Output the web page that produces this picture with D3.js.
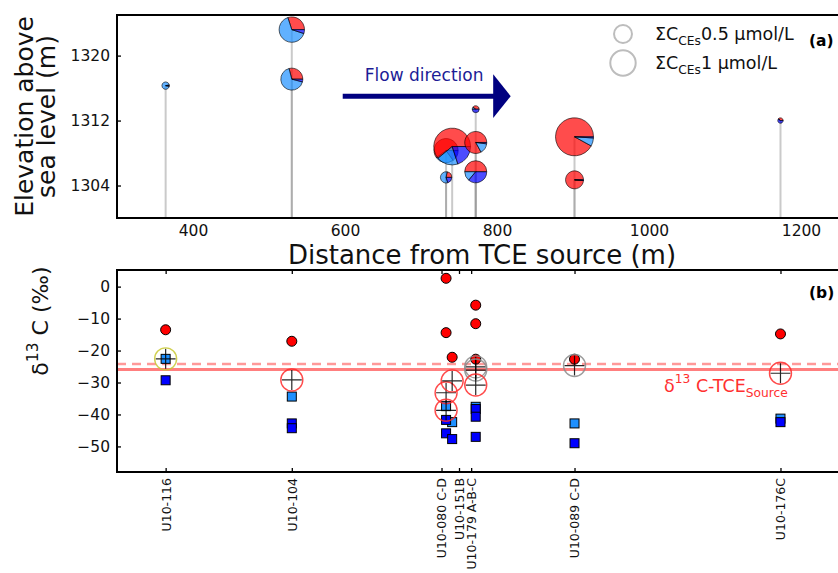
<!DOCTYPE html>
<html>
<head>
<meta charset="utf-8">
<script src="https://cdn.jsdelivr.net/npm/d3@7"></script>
<style>
  body { margin: 0; background: #fff; }
  svg { display: block; font-family: "DejaVu Sans", sans-serif; }
</style>
</head>
<body>
<svg id="chart" width="838" height="573"></svg>
<script>
// ---- monitoring wells ----
const wellNames = ["U10-116", "U10-104", "U10-080 C-D", "U10-151B", "U10-179 A-B-C", "U10-089 C-D", "U10-176C"];
const wellDistance = [364, 530, 733, 741, 772, 902, 1173];      // m from TCE source
const wellTickDistance = [364, 530, 727, 750, 766, 902, 1173];  // label positions (spread apart)

// ---- panel (a): chlorinated ethene composition per sampling depth ----
const pieWell = [0, 1, 1, 2, 2, 3, 4, 4, 4, 5, 5, 6];
const pieElevation = [1316.3, 1323.2, 1317.1, 1308.3, 1305.0, 1308.8, 1313.4, 1309.3, 1305.7, 1310.0, 1304.7, 1312.0];
const pieTotal = [0.085, 1.0, 0.75, 0.9, 0.2, 2.1, 0.075, 0.75, 0.75, 2.24, 0.5, 0.045]; // ΣCEs, µmol/L
const pieTCE = [0.03, 0.30, 0.29, 0.60, 0.22, 0.61, 0.40, 0.83, 0.50, 0.92, 0.99, 0.40];
const pieDCE = [0.94, 0.65, 0.67, 0.25, 0.58, 0.19, 0.10, 0.15, 0.14, 0.07, 0.00, 0.00];
const pieVC  = [0.03, 0.05, 0.04, 0.15, 0.20, 0.20, 0.50, 0.02, 0.36, 0.01, 0.01, 0.60];
const legendConc = [0.5, 1];

// ---- panel (b): carbon isotope ratios ----
const tceWell  = [0, 1, 2, 2, 3, 4, 4, 4, 5, 6];
const tceDelta = [-13.5, -17.1, 2.6, -14.4, -22.1, -5.8, -11.6, -22.7, -22.7, -14.8];
const dceWell  = [0, 1, 2, 3, 4, 5, 6];
const dceDelta = [-22.6, -34.4, -37.4, -42.4, -37.6, -42.8, -41.3];
const vcWell   = [0, 1, 1, 2, 2, 3, 4, 4, 4, 5, 6];
const vcDelta  = [-29.3, -42.8, -44.3, -41.7, -45.9, -47.7, -38.3, -40.7, -47.0, -49.0, -42.4];
const sumWell  = [0, 1, 2, 2, 3, 4, 4, 4, 5, 6];
const sumDelta = [-22.6, -29.2, -33.2, -38.7, -29.5, -25.1, -26.1, -30.8, -24.7, -27.1];
const sumClass = ["y", "r", "r", "r", "r", "g", "g", "r", "g", "r"];
const sourceDelta = -25.9;
const sourceDeltaAlt = -24.2;

// ---- ticks ----
const distTicks = [400, 600, 800, 1000, 1200];
const elevTicks = [1304, 1312, 1320];
const deltaTicks = [0, -10, -20, -30, -40, -50];

// ---- layout ----
const svg = d3.select("#chart");
const L = 117, R = 839;
const A = { top: 15, bottom: 218 };
const B = { top: 270, bottom: 472 };
const fmt = d3.format("d");

const x = d3.scaleLinear().domain([300, 1250]).range([L, R]);
const yA = d3.scaleLinear().domain([1300, 1325]).range([A.bottom, A.top]);
const yB = d3.scaleLinear().domain([-58, 5.2]).range([B.bottom, B.top]);
const rConc = d3.scaleSqrt().domain([0, 1]).range([0, 12.7]);

const compColors = ["#ff0000", "#1e90ff", "#0000ff"];
const ringColor = d3.scaleOrdinal().domain(["r", "g", "y"]).range(["#ff2a2a", "#8c8c8c", "#c8c832"]);

// ================= panel (a) =================
const gA = svg.append("g");
svg.append("clipPath").attr("id", "clipA")
  .append("rect").attr("x", L).attr("y", A.top).attr("width", R - L).attr("height", A.bottom - A.top);
const plotA = gA.append("g").attr("clip-path", "url(#clipA)");

// stems from each sample down to the axis
plotA.selectAll("line.stem").data(pieElevation).join("line")
  .attr("class", "stem")
  .attr("x1", (d, i) => x(wellDistance[pieWell[i]]))
  .attr("x2", (d, i) => x(wellDistance[pieWell[i]]))
  .attr("y1", d => yA(d))
  .attr("y2", A.bottom)
  .attr("stroke", "#8a8a8a").attr("stroke-opacity", 0.45).attr("stroke-width", 2);

// pies: TCE, cDCE, VC counter-clockwise from 3 o'clock
const pie = d3.pie().sort(null).startAngle(Math.PI / 2).endAngle(Math.PI / 2 - 2 * Math.PI);
const arc = d3.arc().innerRadius(0);
pieElevation.forEach((elev, i) => {
  const r = rConc(pieTotal[i]);
  const g = plotA.append("g")
    .attr("transform", `translate(${x(wellDistance[pieWell[i]])},${yA(elev)})`);
  const fr = [pieTCE[i], pieDCE[i], pieVC[i]];
  g.selectAll("path").data(pie(fr)).join("path")
    .attr("d", d => arc.outerRadius(r)(d))
    .attr("fill", (d, k) => compColors[k]).attr("fill-opacity", 0.7)
    .attr("stroke", "#000").attr("stroke-opacity", 0.6).attr("stroke-width", 1);
});

// flow direction arrow
const arrowY = 1315;
plotA.append("line")
  .attr("x1", x(597)).attr("x2", x(797))
  .attr("y1", yA(arrowY)).attr("y2", yA(arrowY))
  .attr("stroke", "#000080").attr("stroke-width", 5);
plotA.append("path")
  .attr("d", `M${x(795)},${yA(1317.7)}L${x(818)},${yA(arrowY)}L${x(795)},${yA(1312.3)}Z`)
  .attr("fill", "#000080");
gA.append("text").attr("x", x(626)).attr("y", 81)
  .attr("font-size", 17).attr("fill", "#1c1c96").text("Flow direction");

// legend for circle size
const legY = [34, 63];
legendConc.forEach((c, i) => {
  gA.append("circle").attr("cx", 623).attr("cy", legY[i]).attr("r", rConc(c))
    .attr("fill", "none").attr("stroke", "#bdbdbd").attr("stroke-width", 2);
  const t = gA.append("text").attr("x", 655).attr("y", legY[i] + 6).attr("font-size", 17.5).attr("fill", "#111");
  t.append("tspan").text("ΣC");
  t.append("tspan").attr("font-size", 12.25).attr("dy", 5).text("CEs");
  t.append("tspan").attr("dy", -5).text(c + " µmol/L");
});
gA.append("text").attr("x", 809).attr("y", 46).attr("font-size", 15.5).attr("font-weight", "bold").text("(a)");

// axes (a)
const axA = gA.append("g").attr("transform", `translate(${L},0)`)
  .call(d3.axisLeft(yA).tickValues(elevTicks).tickFormat(fmt).tickSizeInner(-4).tickSizeOuter(0).tickPadding(7));
axA.select(".domain").remove();
axA.selectAll("text").attr("font-size", 15.5).attr("font-family", "DejaVu Sans").attr("fill", "#111");
axA.selectAll("line").attr("stroke-width", 1.3);

const axAx = gA.append("g").attr("transform", `translate(0,${A.bottom})`)
  .call(d3.axisBottom(x).tickValues(distTicks).tickFormat(fmt).tickSize(0).tickPadding(7));
axAx.select(".domain").remove();
axAx.selectAll("text").attr("font-size", 15.5).attr("font-family", "DejaVu Sans").attr("fill", "#111");

gA.append("rect").attr("x", L).attr("y", A.top).attr("width", R - L).attr("height", A.bottom - A.top)
  .attr("fill", "none").attr("stroke", "#000").attr("stroke-width", 2);

gA.append("text").attr("x", 482).attr("y", 264).attr("text-anchor", "middle")
  .attr("font-size", 26).attr("fill", "#111").text("Distance from TCE source (m)");
[["Elevation above", 33], ["sea level (m)", 55]].forEach(([s, bx]) => {
  gA.append("text").attr("transform", `translate(${bx},${(A.top + A.bottom) / 2}) rotate(-90)`)
    .attr("text-anchor", "middle").attr("font-size", 25).attr("fill", "#111").text(s);
});

// ================= panel (b) =================
const gB = svg.append("g");
svg.append("clipPath").attr("id", "clipB")
  .append("rect").attr("x", L).attr("y", B.top).attr("width", R - L).attr("height", B.bottom - B.top);
const plotB = gB.append("g").attr("clip-path", "url(#clipB)");

// source signature lines
plotB.append("line").attr("x1", L).attr("x2", R)
  .attr("y1", yB(sourceDeltaAlt)).attr("y2", yB(sourceDeltaAlt))
  .attr("stroke", "#ff0000").attr("stroke-opacity", 0.4).attr("stroke-width", 2.5)
  .attr("stroke-dasharray", "9,6");
plotB.append("line").attr("x1", L).attr("x2", R)
  .attr("y1", yB(sourceDelta)).attr("y2", yB(sourceDelta))
  .attr("stroke", "#ff0000").attr("stroke-opacity", 0.5).attr("stroke-width", 3);

const srcLabel = gB.append("text").attr("x", 664).attr("y", 391.5).attr("font-size", 17.5).attr("fill", "#ff3030");
srcLabel.append("tspan").text("δ");
srcLabel.append("tspan").attr("font-size", 12.25).attr("dy", -9).text("13");
srcLabel.append("tspan").attr("dy", 9).text(" C-TCE");
srcLabel.append("tspan").attr("font-size", 12.25).attr("dy", 5).text("Source");

// cDCE squares, VC squares, TCE circles
const sq = 9;
plotB.selectAll("rect.dce").data(dceDelta).join("rect")
  .attr("x", (d, i) => x(wellDistance[dceWell[i]]) - sq / 2).attr("y", d => yB(d) - sq / 2)
  .attr("width", sq).attr("height", sq)
  .attr("fill", "#1e90ff").attr("stroke", "#000").attr("stroke-width", 1);
plotB.selectAll("rect.vc").data(vcDelta).join("rect")
  .attr("x", (d, i) => x(wellDistance[vcWell[i]]) - sq / 2).attr("y", d => yB(d) - sq / 2)
  .attr("width", sq).attr("height", sq)
  .attr("fill", "#0000ff").attr("stroke", "#000").attr("stroke-width", 1);
plotB.selectAll("circle.tce").data(tceDelta).join("circle")
  .attr("cx", (d, i) => x(wellDistance[tceWell[i]])).attr("cy", d => yB(d)).attr("r", 5)
  .attr("fill", "#ff0000").attr("stroke", "#000").attr("stroke-width", 1);

// ΣCEs isotope balance: crosses with rings
sumDelta.forEach((d, i) => {
  const cx = x(wellDistance[sumWell[i]]), cy = yB(d);
  plotB.append("path").attr("d", `M${cx - 10},${cy}H${cx + 10}M${cx},${cy - 10}V${cy + 10}`)
    .attr("stroke", "#000").attr("stroke-opacity", 0.85).attr("stroke-width", 1.2);
  plotB.append("circle").attr("cx", cx).attr("cy", cy).attr("r", 11)
    .attr("fill", "none").attr("stroke", ringColor(sumClass[i])).attr("stroke-opacity", 0.85)
    .attr("stroke-width", 1.4);
});

gB.append("text").attr("x", 809).attr("y", 297.5).attr("font-size", 15.5).attr("font-weight", "bold").text("(b)");

// axes (b)
const axB = gB.append("g").attr("transform", `translate(${L},0)`)
  .call(d3.axisLeft(yB).tickValues(deltaTicks).tickFormat(fmt).tickSizeInner(-4).tickSizeOuter(0).tickPadding(7));
axB.select(".domain").remove();
axB.selectAll("text").attr("font-size", 15.5).attr("font-family", "DejaVu Sans").attr("fill", "#111");
axB.selectAll("line").attr("stroke-width", 1.3);

const axBx = gB.append("g").attr("transform", `translate(0,${B.bottom})`)
  .call(d3.axisBottom(x).tickValues(wellTickDistance).tickFormat((d, i) => wellNames[i])
    .tickSizeInner(-4).tickSizeOuter(0).tickPadding(6));
axBx.select(".domain").remove();
axBx.selectAll("line").attr("stroke-width", 1.3);
axBx.selectAll("text")
  .attr("font-size", 12.5).attr("font-family", "DejaVu Sans").attr("fill", "#111")
  .attr("transform", "rotate(-90)").attr("text-anchor", "end")
  .attr("x", -6).attr("y", 0).attr("dy", "0.35em");

const axBt = gB.append("g").attr("transform", `translate(0,${B.top})`)
  .call(d3.axisTop(x).tickValues(wellTickDistance).tickFormat("").tickSizeInner(-4).tickSizeOuter(0));
axBt.select(".domain").remove();
axBt.selectAll("line").attr("stroke-width", 1.3);

gB.append("rect").attr("x", L).attr("y", B.top).attr("width", R - L).attr("height", B.bottom - B.top)
  .attr("fill", "none").attr("stroke", "#000").attr("stroke-width", 2);

const yl = gB.append("text").attr("transform", `translate(48,321) rotate(-90)`)
  .attr("text-anchor", "middle").attr("font-size", 22).attr("fill", "#111");
yl.append("tspan").text("δ");
yl.append("tspan").attr("font-size", 15.5).attr("dy", -10).text("13");
yl.append("tspan").attr("dy", 10).text(" C (‰)");
</script>
</body>
</html>
